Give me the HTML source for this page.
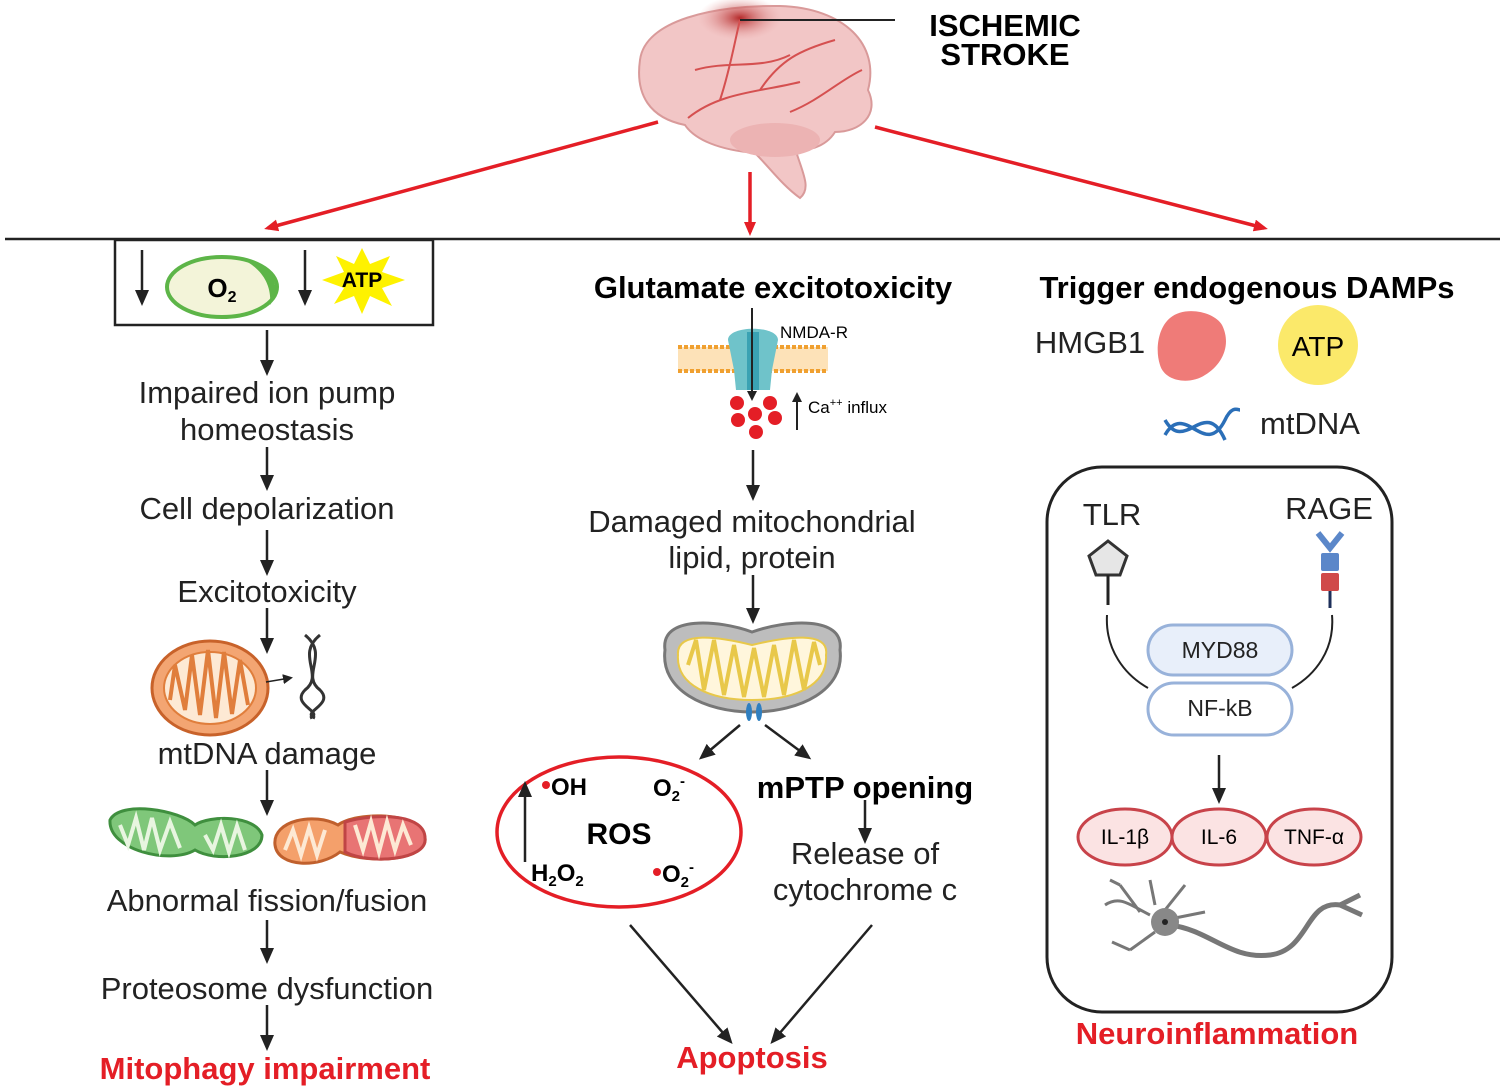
<!DOCTYPE html>
<html><head><meta charset="utf-8"><style>
html,body{margin:0;padding:0;background:#fff}
svg{display:block}
text{font-family:"Liberation Sans",sans-serif}
</style></head><body>
<svg width="1505" height="1090" viewBox="0 0 1505 1090">
<defs>
<marker id="ab" markerWidth="10" markerHeight="10" refX="7" refY="5" orient="auto" markerUnits="userSpaceOnUse"><path d="M0,0 L10,5 L0,10 Z" fill="#222"/></marker>
<marker id="ar" markerWidth="14" markerHeight="12" refX="10" refY="6" orient="auto" markerUnits="userSpaceOnUse"><path d="M0,0 L14,6 L0,12 Z" fill="#e41e26"/></marker>
<marker id="ab2" markerWidth="16" markerHeight="16" refX="12" refY="8" orient="auto" markerUnits="userSpaceOnUse"><path d="M0,1 L16,8 L0,15 Z" fill="#222"/></marker>
<radialGradient id="isch" cx="0.5" cy="0.5" r="0.5"><stop offset="0" stop-color="#b52a2a"/><stop offset="1" stop-color="#e8a5a5" stop-opacity="0"/></radialGradient>
</defs>

<!-- brain -->
<path d="M640,60 C645,20 715,5 780,6 C845,8 880,45 868,90 C880,115 860,132 835,132 C825,148 805,152 795,148 C802,172 812,188 800,198 C782,185 770,168 755,153 C720,150 695,140 685,125 C650,118 635,95 640,60 Z" fill="#f2c6c6" stroke="#d99a9a" stroke-width="2"/>
<ellipse cx="775" cy="140" rx="45" ry="17" fill="#ecb3b3"/>
<ellipse cx="740" cy="18" rx="42" ry="22" fill="url(#isch)"/>
<path d="M688,118 C720,92 760,92 800,82 M720,100 C730,70 735,40 740,20 M760,90 C780,60 800,50 835,40 M695,70 C730,60 760,70 790,55 M790,112 C820,100 840,80 862,70" stroke="#d55050" stroke-width="2" fill="none"/>
<line x1="740" y1="20" x2="895" y2="20" stroke="#222" stroke-width="2"/>
<text x="1005" y="36" font-size="31" font-weight="bold" text-anchor="middle">ISCHEMIC</text>
<text x="1005" y="65" font-size="31" font-weight="bold" text-anchor="middle">STROKE</text>

<!-- red arrows -->
<g stroke="#e41e26" stroke-width="3.5" fill="none" marker-end="url(#ar)">
<line x1="658" y1="122" x2="268" y2="228"/>
<line x1="750" y1="172" x2="750" y2="232"/>
<line x1="875" y1="127" x2="1264" y2="228"/>
</g>
<line x1="5" y1="239" x2="1500" y2="239" stroke="#222" stroke-width="2.5"/>

<!-- LEFT -->
<rect x="115" y="240" width="318" height="85" fill="none" stroke="#222" stroke-width="2.5"/>
<line x1="142" y1="250" x2="142" y2="302" stroke="#222" stroke-width="2.5" marker-end="url(#ab2)"/>
<line x1="305" y1="250" x2="305" y2="302" stroke="#222" stroke-width="2.5" marker-end="url(#ab2)"/>
<ellipse cx="222" cy="287" rx="55" ry="30" fill="#f3f4d9" stroke="#5db548" stroke-width="4"/>
<path d="M240,258 C275,262 282,290 270,305 C272,285 262,268 240,258Z" fill="#5db548"/>
<text x="222" y="297" font-size="26" font-weight="bold" text-anchor="middle">O<tspan font-size="16" dy="5">2</tspan></text>
<polygon points="362,248 370,264 390,256 382,272 405,280 382,288 392,306 370,296 362,314 354,296 334,304 344,288 322,280 344,272 336,256 354,264" fill="#fef200"/>
<text x="362" y="287" font-size="21" font-weight="bold" text-anchor="middle">ATP</text>

<g font-size="31" text-anchor="middle" fill="#222">
<text x="267" y="403">Impaired ion pump</text>
<text x="267" y="440">homeostasis</text>
<text x="267" y="519">Cell depolarization</text>
<text x="267" y="602">Excitotoxicity</text>
<text x="267" y="764">mtDNA damage</text>
<text x="267" y="911">Abnormal fission/fusion</text>
<text x="267" y="999">Proteosome dysfunction</text>
</g>
<text x="265" y="1079" font-size="31" font-weight="bold" fill="#e41e26" text-anchor="middle">Mitophagy impairment</text>
<g stroke="#222" stroke-width="2.5" marker-end="url(#ab2)">
<line x1="267" y1="330" x2="267" y2="372"/>
<line x1="267" y1="447" x2="267" y2="487"/>
<line x1="267" y1="530" x2="267" y2="572"/>
<line x1="267" y1="608" x2="267" y2="650"/>
<line x1="267" y1="770" x2="267" y2="812"/>
<line x1="267" y1="920" x2="267" y2="960"/>
<line x1="267" y1="1005" x2="267" y2="1047"/>
</g>
<!-- mito orange -->
<ellipse cx="210" cy="688" rx="58" ry="47" fill="#f3a572" stroke="#c8622a" stroke-width="3"/>
<ellipse cx="210" cy="688" rx="46" ry="36" fill="#fde9d4" stroke="#e07e3c" stroke-width="2"/>
<path d="M170,700 L175,665 L185,710 L192,655 L200,715 L208,650 L216,718 L224,652 L232,714 L240,660 L248,705" stroke="#e07e3c" stroke-width="4" fill="none"/>
<line x1="266" y1="682" x2="290" y2="678" stroke="#222" stroke-width="1.5" marker-end="url(#ab)"/>
<path d="M305,635 C330,655 300,675 320,690 C335,705 300,712 315,718 M320,635 C295,655 325,675 305,690 C290,705 325,712 310,718" stroke="#333" stroke-width="3" fill="none"/>
<!-- green + orange/red mitos -->
<path d="M110,820 C120,800 180,810 195,825 C210,815 255,815 262,835 C262,858 215,862 195,850 C170,865 108,850 110,820Z" fill="#7fc77a" stroke="#3f8f3e" stroke-width="3"/>
<path d="M120,825 L128,845 L136,818 L144,850 L152,818 L160,850 L170,822 L180,848 M205,835 L213,850 L221,825 L229,852 L237,826 L245,850" stroke="#e8f5e0" stroke-width="4" fill="none"/>
<path d="M275,845 C272,820 315,812 338,825 C355,812 420,810 425,838 C428,860 370,865 340,852 C320,868 278,868 275,845Z" fill="#f4a06b" stroke="#c0602d" stroke-width="3"/>
<path d="M345,822 C380,812 425,815 425,838 C428,860 370,865 345,852Z" fill="#e87474" stroke="#c04545" stroke-width="3"/>
<path d="M285,850 L293,830 L301,855 L309,828 L317,855 L325,830 M355,825 L363,850 L371,822 L379,852 L387,822 L395,850 L403,825 L411,845" stroke="#fde9d4" stroke-width="4" fill="none"/>

<!-- CENTER -->
<text x="773" y="298" font-size="31" font-weight="bold" text-anchor="middle">Glutamate excitotoxicity</text>
<rect x="678" y="347" width="150" height="24" fill="#fde2b8"/>
<line x1="678" y1="347" x2="828" y2="347" stroke="#f0a030" stroke-width="4" stroke-dasharray="4 2"/>
<line x1="678" y1="371" x2="828" y2="371" stroke="#f0a030" stroke-width="4" stroke-dasharray="4 2"/>
<path d="M728,340 C728,325 778,325 778,340 L772,370 L770,390 L736,390 L734,370 Z" fill="#6fc3ca"/>
<rect x="747" y="332" width="12" height="58" fill="#3aa2b3"/>
<line x1="752" y1="308" x2="752" y2="398" stroke="#222" stroke-width="2" marker-end="url(#ab)"/>
<text x="780" y="338" font-size="17">NMDA-R</text>
<g fill="#e41e26"><circle cx="737" cy="403" r="7"/><circle cx="770" cy="403" r="7"/><circle cx="755" cy="414" r="7"/><circle cx="738" cy="420" r="7"/><circle cx="775" cy="418" r="7"/><circle cx="756" cy="432" r="7"/></g>
<line x1="797" y1="430" x2="797" y2="395" stroke="#222" stroke-width="2" marker-end="url(#ab)"/>
<text x="808" y="413" font-size="17">Ca<tspan font-size="11" dy="-7">++</tspan><tspan dy="7"> influx</tspan></text>
<line x1="753" y1="450" x2="753" y2="497" stroke="#222" stroke-width="2.5" marker-end="url(#ab2)"/>
<text x="752" y="532" font-size="31" text-anchor="middle" fill="#222">Damaged mitochondrial</text>
<text x="752" y="568" font-size="31" text-anchor="middle" fill="#222">lipid, protein</text>
<line x1="753" y1="575" x2="753" y2="620" stroke="#222" stroke-width="2.5" marker-end="url(#ab2)"/>
<path d="M665,650 C660,615 720,620 752,632 C785,620 845,615 840,650 C845,690 800,712 752,712 C705,712 660,690 665,650Z" fill="#bdbdbd" stroke="#777" stroke-width="3"/>
<path d="M678,655 C676,630 720,637 752,645 C785,637 830,630 826,655 C828,685 795,700 752,700 C710,700 676,685 678,655Z" fill="#fff6dc" stroke="#e8c84a" stroke-width="2"/>
<path d="M688,665 L696,640 L704,690 L714,640 L724,695 L734,645 L744,697 L754,648 L764,697 L774,645 L784,695 L794,640 L804,690 L814,642 L820,665" stroke="#e8c84a" stroke-width="4" fill="none"/>
<ellipse cx="749" cy="712" rx="3" ry="9" fill="#2f7fc0"/><ellipse cx="759" cy="712" rx="3" ry="9" fill="#2f7fc0"/>
<line x1="740" y1="725" x2="702" y2="757" stroke="#222" stroke-width="2.5" marker-end="url(#ab2)"/>
<line x1="765" y1="725" x2="808" y2="757" stroke="#222" stroke-width="2.5" marker-end="url(#ab2)"/>
<ellipse cx="619" cy="832" rx="122" ry="75" fill="none" stroke="#e41e26" stroke-width="3.5"/>
<text x="619" y="844" font-size="30" font-weight="bold" text-anchor="middle">ROS</text>
<circle cx="546" cy="785" r="4" fill="#e41e26"/><text x="551" y="795" font-size="24" font-weight="bold">OH</text>
<text x="653" y="796" font-size="24" font-weight="bold">O<tspan font-size="15" dy="5">2</tspan><tspan font-size="15" dy="-15">-</tspan></text>
<text x="531" y="881" font-size="24" font-weight="bold">H<tspan font-size="15" dy="5">2</tspan><tspan dy="-5">O</tspan><tspan font-size="15" dy="5">2</tspan></text>
<circle cx="657" cy="872" r="4" fill="#e41e26"/><text x="662" y="882" font-size="24" font-weight="bold">O<tspan font-size="15" dy="5">2</tspan><tspan font-size="15" dy="-15">-</tspan></text>
<line x1="525" y1="862" x2="525" y2="785" stroke="#222" stroke-width="2.5" marker-end="url(#ab2)"/>
<text x="865" y="798" font-size="31" font-weight="bold" text-anchor="middle">mPTP opening</text>
<line x1="865" y1="800" x2="865" y2="840" stroke="#222" stroke-width="2.5" marker-end="url(#ab2)"/>
<text x="865" y="864" font-size="31" text-anchor="middle" fill="#222">Release of</text>
<text x="865" y="900" font-size="31" text-anchor="middle" fill="#222">cytochrome c</text>
<line x1="630" y1="925" x2="730" y2="1041" stroke="#222" stroke-width="2.5" marker-end="url(#ab2)"/>
<line x1="872" y1="925" x2="773" y2="1041" stroke="#222" stroke-width="2.5" marker-end="url(#ab2)"/>
<text x="752" y="1068" font-size="31" font-weight="bold" fill="#e41e26" text-anchor="middle">Apoptosis</text>

<!-- RIGHT -->
<text x="1247" y="298" font-size="31" font-weight="bold" text-anchor="middle">Trigger endogenous DAMPs</text>
<text x="1090" y="353" font-size="31" text-anchor="middle" fill="#222">HMGB1</text>
<path d="M1170,318 C1185,305 1215,312 1222,325 C1232,345 1222,365 1205,375 C1190,385 1165,382 1160,365 C1155,350 1158,328 1170,318Z" fill="#ef7b78"/>
<circle cx="1318" cy="345" r="40" fill="#fbe96a"/>
<text x="1318" y="356" font-size="28" text-anchor="middle">ATP</text>
<path d="M1165,435 C1185,400 1205,460 1225,420 C1232,405 1238,410 1240,410 M1165,420 C1185,455 1205,395 1225,440" stroke="#2b6fb8" stroke-width="3.5" fill="none"/>
<text x="1310" y="434" font-size="31" text-anchor="middle" fill="#222">mtDNA</text>
<rect x="1047" y="467" width="345" height="545" rx="55" fill="none" stroke="#222" stroke-width="3"/>
<text x="1112" y="525" font-size="31" text-anchor="middle" fill="#222">TLR</text>
<text x="1329" y="519" font-size="31" text-anchor="middle" fill="#222">RAGE</text>
<polygon points="1108,541 1127,556 1120,575 1096,575 1089,556" fill="#e6e6e6" stroke="#333" stroke-width="3"/>
<line x1="1108" y1="575" x2="1108" y2="605" stroke="#222" stroke-width="3"/>
<path d="M1318,533 L1330,548 L1342,533" stroke="#5b87c9" stroke-width="6" fill="none"/>
<rect x="1321" y="553" width="18" height="18" fill="#5b87c9" rx="2"/>
<rect x="1321" y="573" width="18" height="18" fill="#d04a4a" rx="2"/>
<line x1="1330" y1="591" x2="1330" y2="608" stroke="#1d2f5a" stroke-width="3"/>
<path d="M1107,615 C1105,650 1125,675 1148,688" stroke="#222" stroke-width="2" fill="none"/>
<path d="M1332,615 C1335,650 1315,675 1292,688" stroke="#222" stroke-width="2" fill="none"/>
<rect x="1148" y="625" width="144" height="50" rx="25" fill="#e8effa" stroke="#98b2da" stroke-width="3"/>
<text x="1220" y="658" font-size="23" text-anchor="middle" fill="#222">MYD88</text>
<rect x="1148" y="683" width="144" height="52" rx="26" fill="#fff" stroke="#98b2da" stroke-width="3"/>
<text x="1220" y="716" font-size="23" text-anchor="middle" fill="#222">NF-kB</text>
<line x1="1219" y1="755" x2="1219" y2="800" stroke="#222" stroke-width="2.5" marker-end="url(#ab2)"/>
<g fill="#fbe3e3" stroke="#c8434a" stroke-width="3">
<ellipse cx="1125" cy="837" rx="47" ry="28"/><ellipse cx="1219" cy="837" rx="47" ry="28"/><ellipse cx="1314" cy="837" rx="47" ry="28"/></g>
<text x="1125" y="844" font-size="21" text-anchor="middle">IL-1β</text>
<text x="1219" y="844" font-size="21" text-anchor="middle">IL-6</text>
<text x="1314" y="844" font-size="21" text-anchor="middle">TNF-α</text>
<!-- neuron -->
<g stroke="#777" stroke-width="3" fill="none">
<path d="M1150,915 C1130,905 1120,895 1105,905 M1140,912 L1120,885 M1155,905 L1150,880 M1165,910 L1185,885 M1175,918 L1205,912 M1155,932 L1130,950 M1130,950 L1112,942 M1120,885 L1110,880"/>
<path d="M1170,925 C1210,930 1230,960 1270,955 C1310,950 1305,900 1340,905 L1360,895 M1340,905 L1362,915" stroke-width="5"/>
</g>
<circle cx="1165" cy="922" r="14" fill="#888"/><circle cx="1165" cy="922" r="3" fill="#222"/>
<text x="1217" y="1044" font-size="31" font-weight="bold" fill="#e41e26" text-anchor="middle">Neuroinflammation</text>
</svg>
</body></html>
